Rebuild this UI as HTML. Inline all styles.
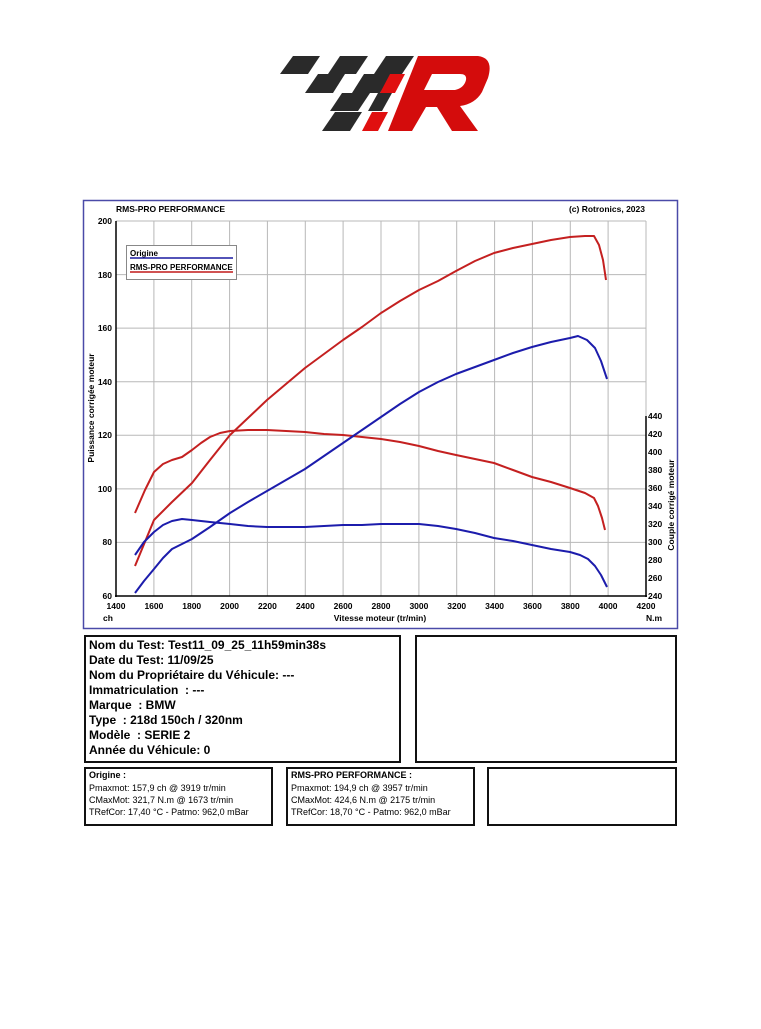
<!DOCTYPE html>
<html><head><meta charset="utf-8"><style>
body{margin:0;background:#fff;width:761px;height:1024px;overflow:hidden;font-family:"Liberation Sans",Arial,sans-serif}
</style></head><body>
<svg width="761" height="1024" viewBox="0 0 761 1024" xmlns="http://www.w3.org/2000/svg" font-family="Liberation Sans, Arial, sans-serif">
<!-- logo -->
<g>
<polygon points="293,56 320,56 308,74 280,74" fill="#2a2a2a"/>
<polygon points="340,56 368,56 356,74 328,74" fill="#2a2a2a"/>
<polygon points="386,56 414,56 402,74 374,74" fill="#2a2a2a"/>
<polygon points="318,74 345,74 333,93 305,93" fill="#2a2a2a"/>
<polygon points="364,74 392,74 380,93 352,93" fill="#2a2a2a"/>
<polygon points="390,74 405,74 395,93 380,93" fill="#e01010"/>
<polygon points="342,93 370,93 358,111 330,111" fill="#2a2a2a"/>
<polygon points="378,93 392,93 382,111 368,111" fill="#2a2a2a"/>
<polygon points="335,112 362,112 350,131 322,131" fill="#2a2a2a"/>
<polygon points="372,112 388,112 378,131 362,131" fill="#e01010"/>
<path d="M418,56 L478,56 Q494,58 488,78 L482,92 Q475,104 460,106 L478,131 L452,131 L437,107 L426,107 L412,131 L388,131 Z M432,74 L424,90 L455,90 Q464,88 466,80 Q467,74 460,74 Z" fill="#d40c0c" fill-rule="evenodd"/>
</g>
<!-- chart frame -->
<rect x="83.5" y="200.5" width="594" height="428" fill="#fff" stroke="#4a4aa8" stroke-width="1.5"/>
<text x="116" y="212" font-size="8.5" font-weight="bold">RMS-PRO PERFORMANCE</text>
<text x="645" y="212" font-size="8.5" font-weight="bold" text-anchor="end">(c) Rotronics, 2023</text>
<g stroke="#b8b8b8" stroke-width="1">
<line x1="153.9" y1="221" x2="153.9" y2="596"/><line x1="191.7" y1="221" x2="191.7" y2="596"/><line x1="229.6" y1="221" x2="229.6" y2="596"/><line x1="267.4" y1="221" x2="267.4" y2="596"/><line x1="305.3" y1="221" x2="305.3" y2="596"/><line x1="343.1" y1="221" x2="343.1" y2="596"/><line x1="381" y1="221" x2="381" y2="596"/><line x1="418.9" y1="221" x2="418.9" y2="596"/><line x1="456.7" y1="221" x2="456.7" y2="596"/><line x1="494.6" y1="221" x2="494.6" y2="596"/><line x1="532.4" y1="221" x2="532.4" y2="596"/><line x1="570.3" y1="221" x2="570.3" y2="596"/><line x1="608.1" y1="221" x2="608.1" y2="596"/><line x1="646" y1="221" x2="646" y2="596"/>
<line x1="116" y1="221" x2="646" y2="221"/><line x1="116" y1="274.6" x2="646" y2="274.6"/><line x1="116" y1="328.1" x2="646" y2="328.1"/><line x1="116" y1="381.7" x2="646" y2="381.7"/><line x1="116" y1="435.3" x2="646" y2="435.3"/><line x1="116" y1="488.9" x2="646" y2="488.9"/><line x1="116" y1="542.4" x2="646" y2="542.4"/>
</g>
<g stroke="#000" stroke-width="1.5"><line x1="116" y1="221" x2="116" y2="597"/><line x1="115" y1="596" x2="647" y2="596"/><line x1="646" y1="416" x2="646" y2="597"/></g>
<g font-size="8.5" font-weight="bold" text-anchor="end">
<text x="112" y="224">200</text><text x="112" y="278">180</text><text x="112" y="331">160</text><text x="112" y="385">140</text><text x="112" y="438">120</text><text x="112" y="492">100</text><text x="112" y="545">80</text><text x="112" y="599">60</text>
</g>
<g font-size="8.5" font-weight="bold">
<text x="648" y="419">440</text><text x="648" y="437">420</text><text x="648" y="455">400</text><text x="648" y="473">380</text><text x="648" y="491">360</text><text x="648" y="509">340</text><text x="648" y="527">320</text><text x="648" y="545">300</text><text x="648" y="563">280</text><text x="648" y="581">260</text><text x="648" y="599">240</text>
</g>
<g font-size="8.5" font-weight="bold" text-anchor="middle">
<text x="116" y="609">1400</text><text x="153.9" y="609">1600</text><text x="191.7" y="609">1800</text><text x="229.6" y="609">2000</text><text x="267.4" y="609">2200</text><text x="305.3" y="609">2400</text><text x="343.1" y="609">2600</text><text x="381" y="609">2800</text><text x="418.9" y="609">3000</text><text x="456.7" y="609">3200</text><text x="494.6" y="609">3400</text><text x="532.4" y="609">3600</text><text x="570.3" y="609">3800</text><text x="608.1" y="609">4000</text><text x="646" y="609">4200</text>
<text x="380" y="621">Vitesse moteur (tr/min)</text>
</g>
<text x="103" y="621" font-size="8.5" font-weight="bold">ch</text>
<text x="646" y="621" font-size="8.5" font-weight="bold">N.m</text>
<text transform="translate(94,408) rotate(-90)" font-size="8.5" font-weight="bold" text-anchor="middle">Puissance corrigée moteur</text>
<text transform="translate(674,505) rotate(-90)" font-size="8.5" font-weight="bold" text-anchor="middle">Couple corrigé moteur</text>
<!-- legend -->
<rect x="126.5" y="245.5" width="110" height="34" fill="#fff" stroke="#888"/>
<text x="130" y="256" font-size="8" font-weight="bold">Origine</text>
<line x1="130" y1="258" x2="233" y2="258" stroke="#1a1aa0" stroke-width="1.5"/>
<text x="130" y="270" font-size="8" font-weight="bold">RMS-PRO PERFORMANCE</text>
<line x1="130" y1="272" x2="233" y2="272" stroke="#c01818" stroke-width="1.5"/>
<!-- curves -->
<g fill="none" stroke-width="2" stroke-linejoin="round">
<polyline stroke="#c42020" points="135,566 154,520 172,502 192,483 210,460 230,435 248,418 267,400 286,384 305,368 324,354 343,340 362,327 381,313 400,301 419,290 438,281 456,271 475,261 494,253 513,248 532,244 551,240 570,237 585,236 594,236 599,245 603,260 606,280"/>
<polyline stroke="#c42020" points="135,513 145,490 154,472 163,464 172,460 182,457 192,450 201,443 210,437 220,433 230,431 248,430 267,430 286,431 305,432 324,434 343,435 362,437 381,439 400,442 419,446 438,451 456,455 475,459 494,463 513,470 532,477 551,482 570,488 585,493 594,498 598,506 602,518 605,530"/>
<polyline stroke="#1c1cac" points="135,593 144,581 154,569 163,558 172,549 182,544 192,539 210,527 230,513 248,502 267,491 286,480 305,469 324,456 343,443 362,430 381,417 400,404 419,392 438,382 456,374 475,367 494,360 513,353 532,347 551,342 570,338 578,336 587,340 595,348 601,361 607,379"/>
<polyline stroke="#1c1cac" points="135,555 144,542 154,532 163,525 172,521 182,519 192,520 210,522 230,524 248,526 267,527 286,527 305,527 324,526 343,525 362,525 381,524 400,524 419,524 438,526 456,529 475,533 494,538 513,541 532,545 551,549 570,552 580,555 588,559 595,566 601,575 607,587"/>
</g>
<!-- info boxes -->
<g fill="#fff" stroke="#111" stroke-width="2">
<rect x="85" y="636" width="315" height="126"/><rect x="416" y="636" width="260" height="126"/>
<rect x="85" y="768" width="187" height="57"/><rect x="287" y="768" width="187" height="57"/><rect x="488" y="768" width="188" height="57"/>
</g>
<g font-size="12" font-weight="bold">
<text x="89" y="649">Nom du Test: Test11_09_25_11h59min38s</text>
<text x="89" y="664">Date du Test: 11/09/25</text>
<text x="89" y="679">Nom du Propriétaire du Véhicule: ---</text>
<text x="89" y="694">Immatriculation&#160; : ---</text>
<text x="89" y="709">Marque&#160; : BMW</text>
<text x="89" y="724">Type&#160; : 218d 150ch / 320nm</text>
<text x="89" y="739">Modèle&#160; : SERIE 2</text>
<text x="89" y="754">Année du Véhicule: 0</text>
</g>
<g font-size="9">
<text x="89" y="778" font-weight="bold">Origine :</text>
<text x="89" y="791">Pmaxmot: 157,9 ch @ 3919 tr/min</text>
<text x="89" y="803">CMaxMot: 321,7 N.m @ 1673 tr/min</text>
<text x="89" y="815">TRefCor: 17,40 °C - Patmo: 962,0 mBar</text>
<text x="291" y="778" font-weight="bold">RMS-PRO PERFORMANCE :</text>
<text x="291" y="791">Pmaxmot: 194,9 ch @ 3957 tr/min</text>
<text x="291" y="803">CMaxMot: 424,6 N.m @ 2175 tr/min</text>
<text x="291" y="815">TRefCor: 18,70 °C - Patmo: 962,0 mBar</text>
</g>
</svg>
</body></html>
